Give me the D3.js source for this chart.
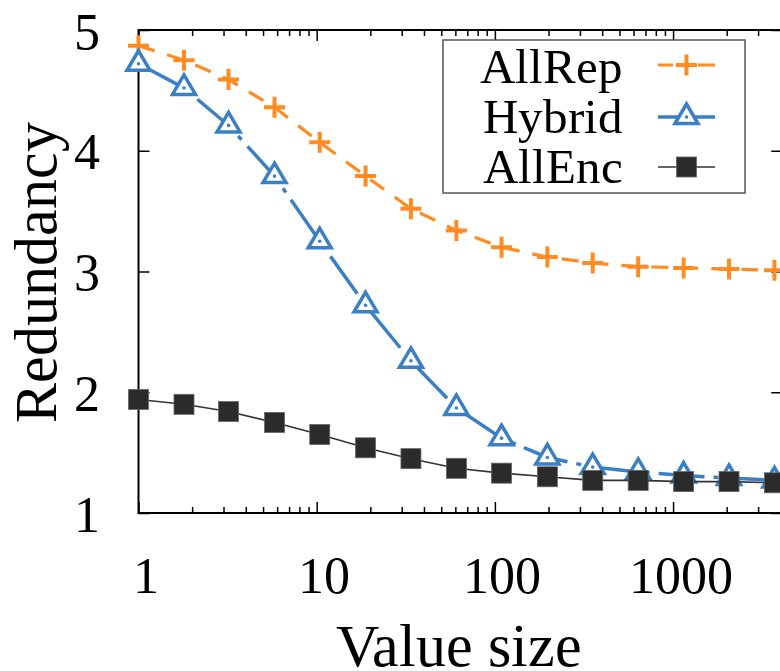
<!DOCTYPE html>
<html><head><meta charset="utf-8">
<script src="https://cdn.jsdelivr.net/npm/d3@7"></script>
<style>
@font-face{font-family:"RefSerif";src:local("Liberation Serif"),local("LiberationSerif"),local("LiberationSerif-Regular"),local("Tinos"),local("Tinos-Regular"),local("Times New Roman"),local("TimesNewRomanPSMT"),local("Nimbus Roman"),local("NimbusRoman-Regular"),local("FreeSerif"),local("DejaVu Serif"),local("DejaVuSerif"),local("Noto Serif"),local("NotoSerif-Regular");}
body{margin:0;background:#fff}
</style>
</head><body>
<svg id="c" width="780" height="671"></svg>
<script>
// ---- data ----
const valueSizes = [1, 1.8, 3.2, 5.8, 10.4, 18.8, 33.8, 60.8, 109, 197, 354, 637, 1146, 2060, 3705];
const allRep = [4.87, 4.75, 4.59, 4.36, 4.07, 3.79, 3.52, 3.34, 3.2, 3.12, 3.07, 3.04, 3.03, 3.02, 3.01];
const hybrid = [4.72, 4.52, 4.21, 3.79, 3.25, 2.72, 2.26, 1.87, 1.62, 1.46, 1.38, 1.34, 1.31, 1.29, 1.27];
const allEnc = [1.94, 1.9, 1.84, 1.75, 1.65, 1.54, 1.45, 1.37, 1.33, 1.3, 1.27, 1.27, 1.26, 1.26, 1.25];
const seriesNames = ["AllRep", "Hybrid", "AllEnc"];
const xTickValues = [1, 10, 100, 1000];
const yTickValues = [1, 2, 3, 4, 5];
const xDomain = [1, 4096];
const yDomain = [1, 5];

const FONT = "RefSerif,'Liberation Serif','DejaVu Serif',serif";

// ---- layout ----
const svg = d3.select("#c");
const L = 138.5, R = 782.2, T = 30, B = 513;
const x = d3.scaleLog().domain(xDomain).range([L, R]);
const y = d3.scaleLinear().domain(yDomain).range([B, T]);

const minorX = [];
for (let d = 1; d <= 1000; d *= 10) for (let m = 2; m <= 9; m++) if (d*m <= 4096) minorX.push(d*m);

function styleAxis(g){ g.attr("font-family",null).select(".domain").remove(); g.selectAll("line").attr("stroke","#000").attr("stroke-width",1.5); }
function styleText(sel, size){ sel.style("font-family",FONT).style("font-size",size+"px").attr("fill","#000"); }

svg.append("g").attr("transform",`translate(0,${B})`)
  .call(d3.axisBottom(x).tickValues(xTickValues).tickSize(-11).tickFormat(d3.format("d")))
  .call(styleAxis)
  .call(g=>g.selectAll("text").attr("x",7).attr("y",80).attr("dy",0).call(styleText,52));
svg.append("g").attr("transform",`translate(0,${B})`)
  .call(d3.axisBottom(x).tickValues(minorX).tickSize(-6).tickFormat(""))
  .call(styleAxis);
svg.append("g").attr("transform",`translate(0,${T})`)
  .call(d3.axisTop(x).tickValues(xTickValues).tickSize(-11).tickFormat(""))
  .call(styleAxis);
svg.append("g").attr("transform",`translate(0,${T})`)
  .call(d3.axisTop(x).tickValues(minorX).tickSize(-6).tickFormat(""))
  .call(styleAxis);
svg.append("g").attr("transform",`translate(${L},0)`)
  .call(d3.axisLeft(y).tickValues(yTickValues).tickSize(-11).tickFormat(d3.format("d")))
  .call(styleAxis)
  .call(g=>g.selectAll("text").attr("x",-39).attr("dy",0).attr("y",18).call(styleText,52));
svg.append("g").attr("transform",`translate(${R},0)`)
  .call(d3.axisRight(y).tickValues(yTickValues).tickSize(-11).tickFormat(""))
  .call(styleAxis);

// frame
svg.append("rect").attr("x",L).attr("y",T).attr("width",R-L).attr("height",B-T)
  .attr("fill","none").attr("stroke","#000").attr("stroke-width",2);

// axis titles
svg.append("text").attr("transform","translate(56,272) rotate(-90)").attr("text-anchor","middle")
  .call(styleText,60).text("Redundancy");
svg.append("text").attr("x",459).attr("y",666).attr("text-anchor","middle")
  .call(styleText,60).text("Value size");

// series
const ORANGE = "#ff8b22", BLUE = "#3b7fc4", DARK = "#2b2b2b";
const line = d3.line().x(d=>x(d[0])).y(d=>y(d[1]));
const pts = arr => valueSizes.map((v,i)=>[v, arr[i]]);

const plot = svg.append("g");
function plusMark(g, c){ g.append("path").attr("d","M-10.5,0H10.5M0,-10.5V10.5").attr("stroke",c).attr("stroke-width",4).attr("fill","none"); }
function triMark(g, c){
  g.append("path").attr("d","M0,-13L11.5,6.5L-11.5,6.5Z").attr("fill","#fff").attr("stroke",c).attr("stroke-width",3.5).attr("stroke-linejoin","miter");
  g.append("circle").attr("r",1.8).attr("fill",c);
}
function sqMark(g, c){ g.append("rect").attr("x",-10).attr("y",-10).attr("width",20).attr("height",20).attr("fill",c).attr("stroke","#666").attr("stroke-width",0.8); }

// AllRep
plot.append("path").datum(pts(allRep)).attr("d",line).attr("fill","none")
  .attr("stroke",ORANGE).attr("stroke-width",3.2).attr("stroke-dasharray","17,13");
plot.selectAll(".rep").data(pts(allRep)).join("g").attr("transform",d=>`translate(${x(d[0])},${y(d[1])})`)
  .each(function(){ plusMark(d3.select(this), ORANGE); });
// Hybrid
plot.append("path").datum(pts(hybrid)).attr("d",line).attr("fill","none")
  .attr("stroke",BLUE).attr("stroke-width",3.5).attr("stroke-dasharray","46,9,5,9");
plot.selectAll(".hyb").data(pts(hybrid)).join("g").attr("transform",d=>`translate(${x(d[0])},${y(d[1])})`)
  .each(function(){ triMark(d3.select(this), BLUE); });
// AllEnc
plot.append("path").datum(pts(allEnc)).attr("d",line).attr("fill","none")
  .attr("stroke","#333").attr("stroke-width",1.6);
plot.selectAll(".enc").data(pts(allEnc)).join("g").attr("transform",d=>`translate(${x(d[0])},${y(d[1])})`)
  .each(function(){ sqMark(d3.select(this), DARK); });

// legend
const lg = svg.append("g");
lg.append("rect").attr("x",443).attr("y",40).attr("width",302).attr("height",153)
  .attr("fill","#fff").attr("stroke","#555").attr("stroke-width",1.5);
const legendRows = [
  {name: seriesNames[0], c: ORANGE, mark: plusMark, dash: "15,25,17", w: 3.2, ty: 83, ly: 65},
  {name: seriesNames[1], c: BLUE, mark: triMark, dash: null, w: 3.5, ty: 133, ly: 117},
  {name: seriesNames[2], c: "#333", mark: sqMark, dash: null, w: 1.6, ty: 183, ly: 167}
];
legendRows.forEach((r,i)=>{
  lg.append("text").attr("x",623).attr("y",r.ty).attr("text-anchor","end").call(styleText,49).text(r.name);
  const ln = lg.append("line").attr("x1",658).attr("x2",715).attr("y1",r.ly).attr("y2",r.ly)
    .attr("stroke",r.c).attr("stroke-width",r.w);
  if (r.dash) ln.attr("stroke-dasharray",r.dash);
  const g = lg.append("g").attr("transform",`translate(686.5,${r.ly})`);
  r.mark(g, i===2 ? DARK : r.c);
});
</script>
</body></html>
